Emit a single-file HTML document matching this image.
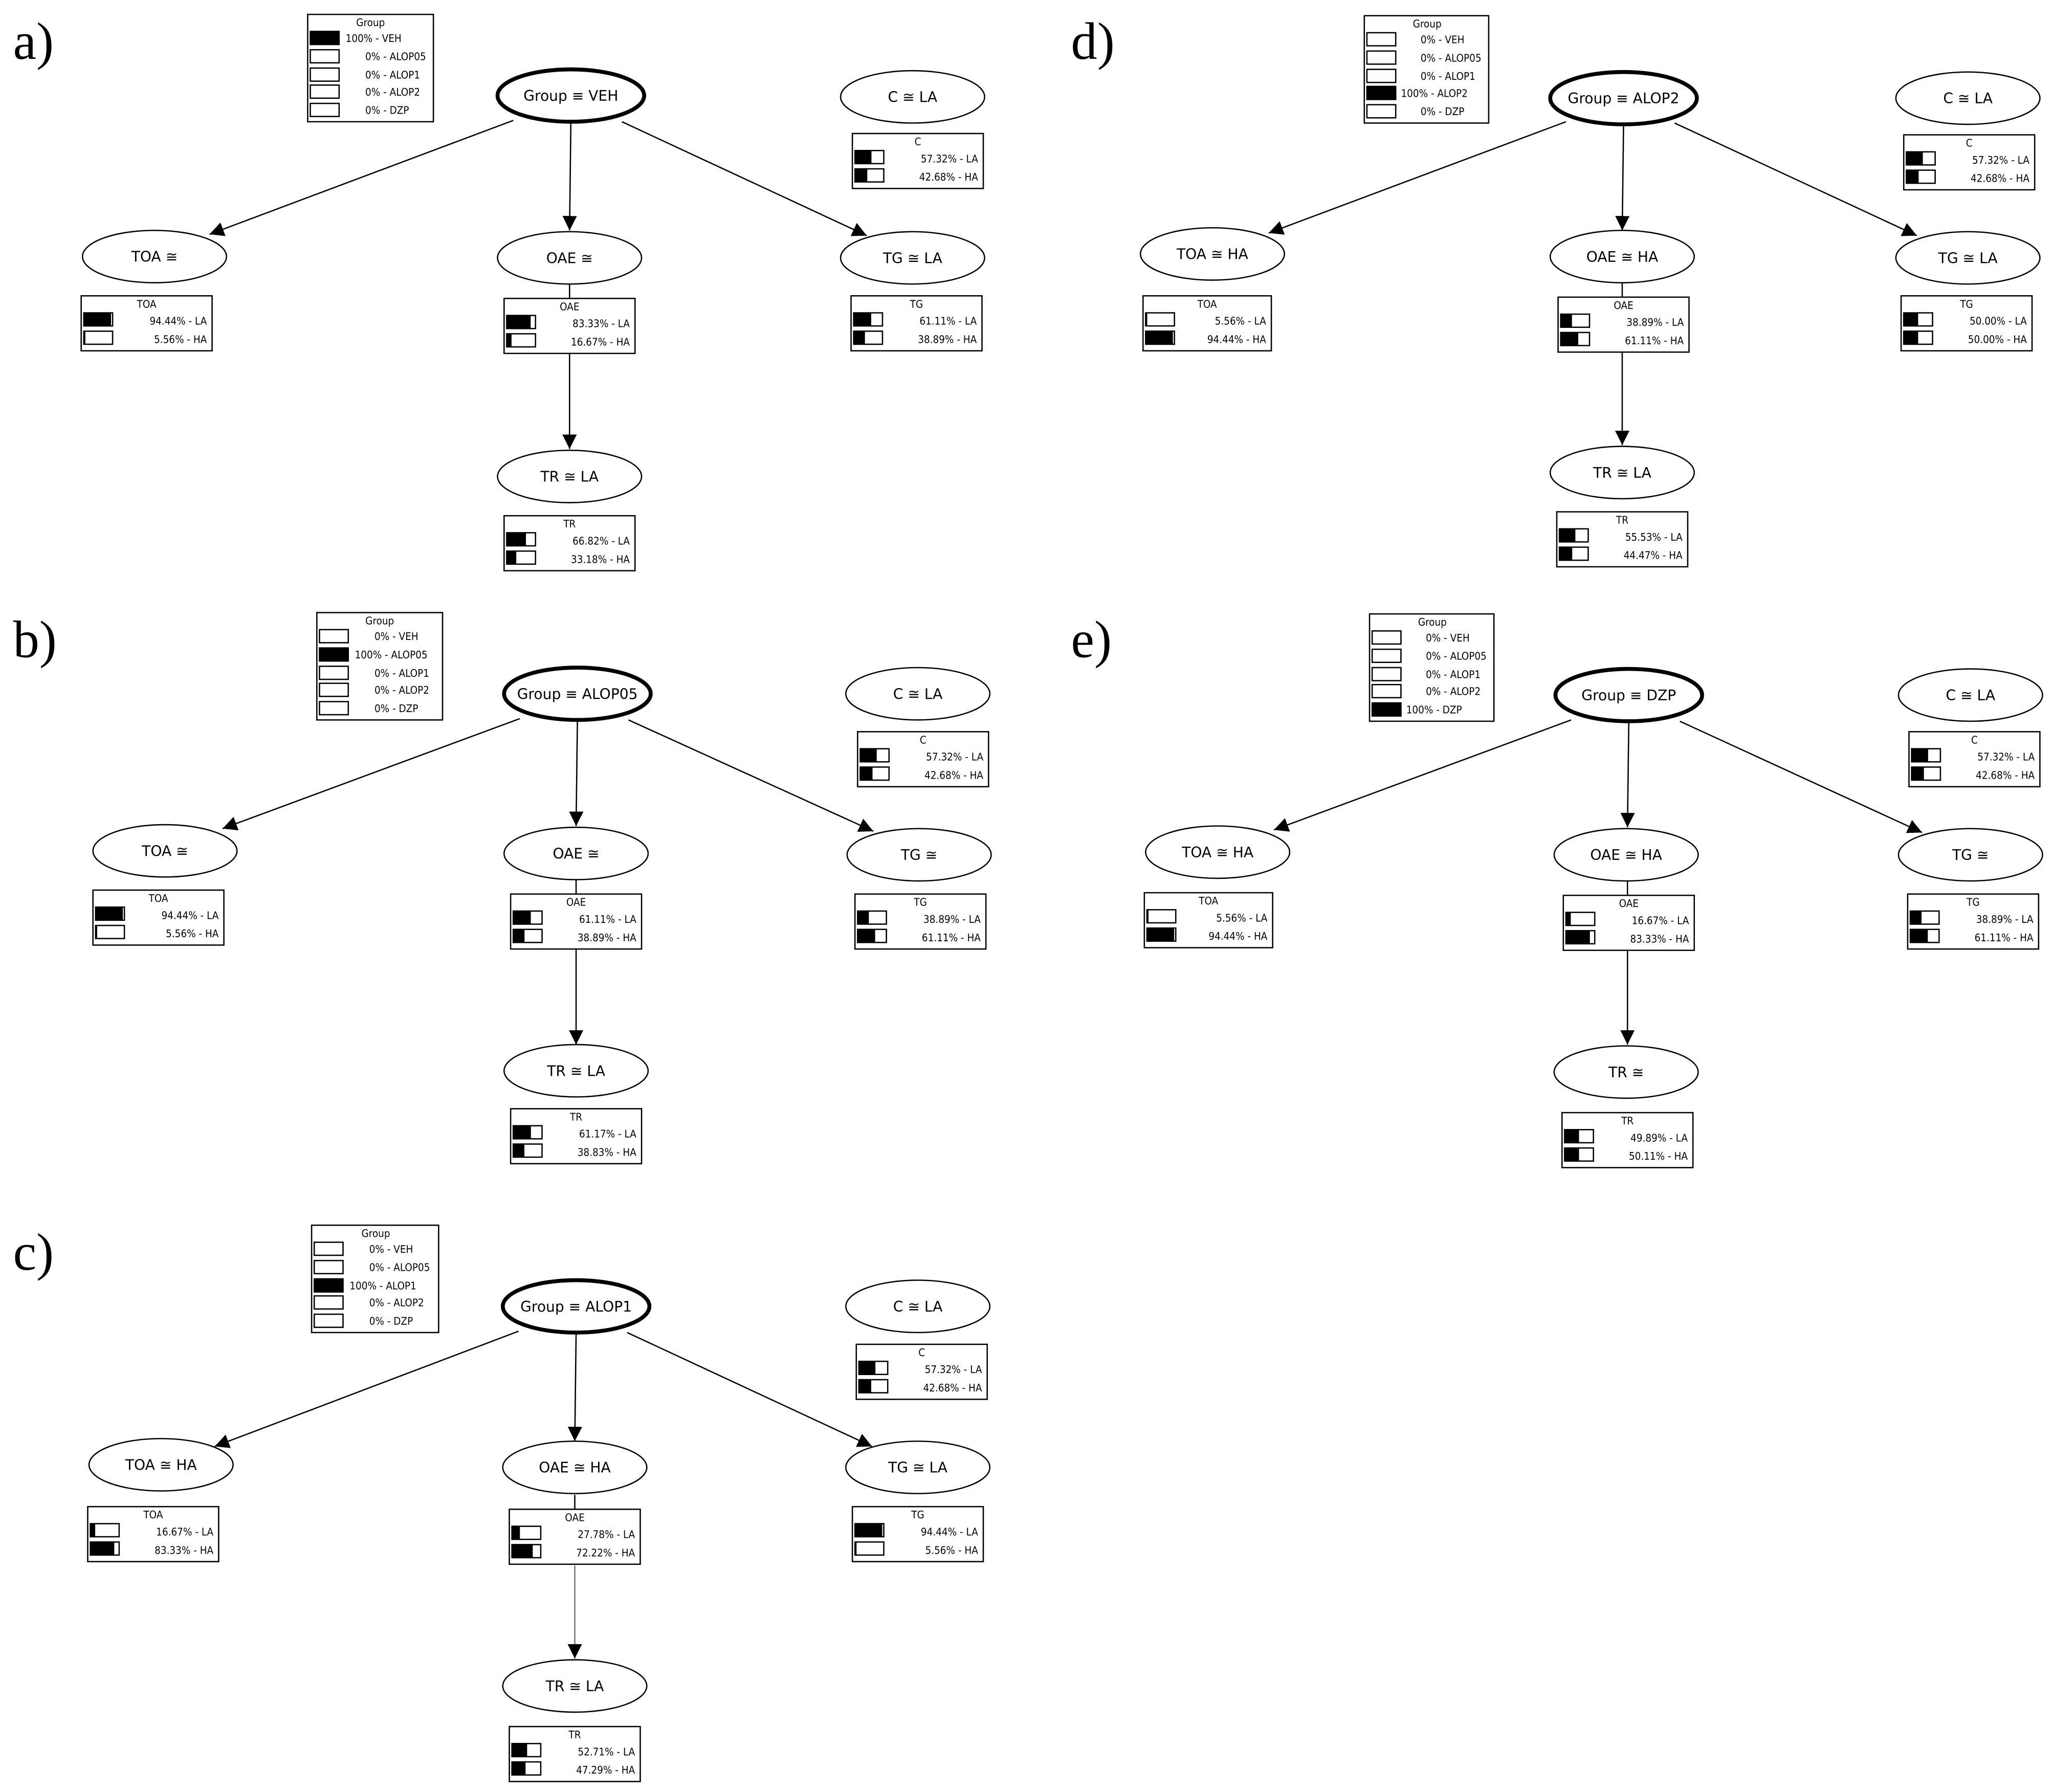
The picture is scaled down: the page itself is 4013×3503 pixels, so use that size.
<!DOCTYPE html>
<html><head><meta charset="utf-8"><style>
html,body{margin:0;padding:0;background:#fff;}
svg{display:block}
.t{font-family:"DejaVu Sans Condensed","DejaVu Sans","Liberation Sans",sans-serif;font-size:8px;fill:#000}
.e{font-family:"DejaVu Sans","Liberation Sans",sans-serif;font-size:11px;fill:#000;text-anchor:middle}
.m{text-anchor:middle}.r{text-anchor:end}
.lab{font-family:"Liberation Serif",serif;font-size:40px;fill:#000}
rect.b{fill:#fff;stroke:#000;stroke-width:1}
rect.k{fill:#000}
ellipse{fill:#fff;stroke:#000;stroke-width:1}
ellipse.g{stroke-width:3}
line{stroke:#000;stroke-width:1}
line.a{marker-end:url(#ar)}
</style></head><body>
<svg width="4013" height="3503" viewBox="0 0 1568 1369" preserveAspectRatio="none" xmlns="http://www.w3.org/2000/svg">
<defs><marker id="ar" viewBox="0 0 10 10" refX="10" refY="5" markerWidth="11" markerHeight="11" markerUnits="userSpaceOnUse" orient="auto"><path d="M0,0 L10,5 L0,10 z" fill="#000"/></marker></defs>
<rect width="1568" height="1369" fill="#fff"/>
<text class="lab" x="10" y="45">a)</text>
<text class="lab" x="10" y="502">b)</text>
<text class="lab" x="10" y="970">c)</text>
<text class="lab" x="818" y="45">d)</text>
<text class="lab" x="818" y="502">e)</text>

<!-- PANEL A -->
<g transform="translate(0,0)">
<rect class="b" x="235" y="11" width="96" height="82"/>
<text class="t m" x="283" y="20">Group</text>
<rect class="b" x="237" y="24" width="22" height="10"/><rect class="k" x="237" y="24" width="22" height="10"/><text class="t" x="264" y="32">100% - VEH</text>
<rect class="b" x="237" y="38" width="22" height="10"/><text class="t" x="279" y="46">0% - ALOP05</text>
<rect class="b" x="237" y="52" width="22" height="10"/><text class="t" x="279" y="60">0% - ALOP1</text>
<rect class="b" x="237" y="65" width="22" height="10"/><text class="t" x="279" y="73">0% - ALOP2</text>
<rect class="b" x="237" y="79" width="22" height="10"/><text class="t" x="279" y="87">0% - DZP</text>
<line class="a" x1="392" y1="92" x2="160" y2="179"/>
<line class="a" x1="436" y1="94" x2="435" y2="176"/>
<line class="a" x1="475" y1="93" x2="662" y2="180"/>
<line x1="435" y1="217" x2="435" y2="228"/>
<line class="a" x1="435" y1="270" x2="435" y2="343"/>
<ellipse class="g" cx="436" cy="73" rx="56" ry="20"/><text class="e" x="436" y="77">Group ≡ VEH</text>
<ellipse cx="697" cy="74" rx="55" ry="20"/><text class="e" x="697" y="78">C ≅ LA</text>
<rect class="b" x="651" y="102" width="100" height="42"/><text class="t m" x="701" y="111">C</text>
<rect class="b" x="653" y="115" width="22" height="10"/><rect class="k" x="653" y="115" width="12.6" height="10"/><text class="t r" x="747" y="124">57.32% - LA</text>
<rect class="b" x="653" y="129" width="22" height="10"/><rect class="k" x="653" y="129" width="9.4" height="10"/><text class="t r" x="747" y="138">42.68% - HA</text>
<ellipse cx="118" cy="196" rx="55" ry="20"/><text class="e" x="118" y="200">TOA ≅</text>
<rect class="b" x="62" y="226" width="100" height="42"/><text class="t m" x="112" y="235">TOA</text>
<rect class="b" x="64" y="239" width="22" height="10"/><rect class="k" x="64" y="239" width="20.8" height="10"/><text class="t r" x="158" y="248">94.44% - LA</text>
<rect class="b" x="64" y="253" width="22" height="10"/><rect class="k" x="64" y="253" width="1.2" height="10"/><text class="t r" x="158" y="262">5.56% - HA</text>
<ellipse cx="435" cy="197" rx="55" ry="20"/><text class="e" x="435" y="201">OAE ≅</text>
<rect class="b" x="385" y="228" width="100" height="42"/><text class="t m" x="435" y="237">OAE</text>
<rect class="b" x="387" y="241" width="22" height="10"/><rect class="k" x="387" y="241" width="18.3" height="10"/><text class="t r" x="481" y="250">83.33% - LA</text>
<rect class="b" x="387" y="255" width="22" height="10"/><rect class="k" x="387" y="255" width="3.7" height="10"/><text class="t r" x="481" y="264">16.67% - HA</text>
<ellipse cx="697" cy="197" rx="55" ry="20"/><text class="e" x="697" y="201">TG ≅ LA</text>
<rect class="b" x="650" y="226" width="100" height="42"/><text class="t m" x="700" y="235">TG</text>
<rect class="b" x="652" y="239" width="22" height="10"/><rect class="k" x="652" y="239" width="13.4" height="10"/><text class="t r" x="746" y="248">61.11% - LA</text>
<rect class="b" x="652" y="253" width="22" height="10"/><rect class="k" x="652" y="253" width="8.6" height="10"/><text class="t r" x="746" y="262">38.89% - HA</text>
<ellipse cx="435" cy="364" rx="55" ry="20"/><text class="e" x="435" y="368">TR ≅ LA</text>
<rect class="b" x="385" y="394" width="100" height="42"/><text class="t m" x="435" y="403">TR</text>
<rect class="b" x="387" y="407" width="22" height="10"/><rect class="k" x="387" y="407" width="14.7" height="10"/><text class="t r" x="481" y="416">66.82% - LA</text>
<rect class="b" x="387" y="421" width="22" height="10"/><rect class="k" x="387" y="421" width="7.3" height="10"/><text class="t r" x="481" y="430">33.18% - HA</text>
</g>

<!-- PANEL B -->
<g transform="translate(5,457)">
<rect class="b" x="237" y="11" width="96" height="82"/>
<text class="t m" x="285" y="20">Group</text>
<rect class="b" x="239" y="24" width="22" height="10"/><text class="t" x="281" y="32">0% - VEH</text>
<rect class="b" x="239" y="38" width="22" height="10"/><rect class="k" x="239" y="38" width="22" height="10"/><text class="t" x="266" y="46">100% - ALOP05</text>
<rect class="b" x="239" y="52" width="22" height="10"/><text class="t" x="281" y="60">0% - ALOP1</text>
<rect class="b" x="239" y="65" width="22" height="10"/><text class="t" x="281" y="73">0% - ALOP2</text>
<rect class="b" x="239" y="79" width="22" height="10"/><text class="t" x="281" y="87">0% - DZP</text>
<line class="a" x1="392" y1="92" x2="165" y2="176"/>
<line class="a" x1="436" y1="94" x2="435" y2="174"/>
<line class="a" x1="475" y1="93" x2="662" y2="178"/>
<line x1="435" y1="215" x2="435" y2="226"/>
<line class="a" x1="435" y1="268" x2="435" y2="341"/>
<ellipse class="g" cx="436" cy="73" rx="56" ry="20"/><text class="e" x="436" y="77">Group ≡ ALOP05</text>
<ellipse cx="696" cy="73" rx="55" ry="20"/><text class="e" x="696" y="77">C ≅ LA</text>
<rect class="b" x="650" y="102" width="100" height="42"/><text class="t m" x="700" y="111">C</text>
<rect class="b" x="652" y="115" width="22" height="10"/><rect class="k" x="652" y="115" width="12.6" height="10"/><text class="t r" x="746" y="124">57.32% - LA</text>
<rect class="b" x="652" y="129" width="22" height="10"/><rect class="k" x="652" y="129" width="9.4" height="10"/><text class="t r" x="746" y="138">42.68% - HA</text>
<ellipse cx="121" cy="193" rx="55" ry="20"/><text class="e" x="121" y="197">TOA ≅</text>
<rect class="b" x="66" y="223" width="100" height="42"/><text class="t m" x="116" y="232">TOA</text>
<rect class="b" x="68" y="236" width="22" height="10"/><rect class="k" x="68" y="236" width="20.8" height="10"/><text class="t r" x="162" y="245">94.44% - LA</text>
<rect class="b" x="68" y="250" width="22" height="10"/><rect class="k" x="68" y="250" width="1.2" height="10"/><text class="t r" x="162" y="259">5.56% - HA</text>
<ellipse cx="435" cy="195" rx="55" ry="20"/><text class="e" x="435" y="199">OAE ≅</text>
<rect class="b" x="385" y="226" width="100" height="42"/><text class="t m" x="435" y="235">OAE</text>
<rect class="b" x="387" y="239" width="22" height="10"/><rect class="k" x="387" y="239" width="13.4" height="10"/><text class="t r" x="481" y="248">61.11% - LA</text>
<rect class="b" x="387" y="253" width="22" height="10"/><rect class="k" x="387" y="253" width="8.6" height="10"/><text class="t r" x="481" y="262">38.89% - HA</text>
<ellipse cx="697" cy="196" rx="55" ry="20"/><text class="e" x="697" y="200">TG ≅</text>
<rect class="b" x="648" y="226" width="100" height="42"/><text class="t m" x="698" y="235">TG</text>
<rect class="b" x="650" y="239" width="22" height="10"/><rect class="k" x="650" y="239" width="8.6" height="10"/><text class="t r" x="744" y="248">38.89% - LA</text>
<rect class="b" x="650" y="253" width="22" height="10"/><rect class="k" x="650" y="253" width="13.4" height="10"/><text class="t r" x="744" y="262">61.11% - HA</text>
<ellipse cx="435" cy="361" rx="55" ry="20"/><text class="e" x="435" y="365">TR ≅ LA</text>
<rect class="b" x="385" y="390" width="100" height="42"/><text class="t m" x="435" y="399">TR</text>
<rect class="b" x="387" y="403" width="22" height="10"/><rect class="k" x="387" y="403" width="13.5" height="10"/><text class="t r" x="481" y="412">61.17% - LA</text>
<rect class="b" x="387" y="417" width="22" height="10"/><rect class="k" x="387" y="417" width="8.5" height="10"/><text class="t r" x="481" y="426">38.83% - HA</text>
</g>

<!-- PANEL C -->
<g transform="translate(4,925)">
<rect class="b" x="234" y="11" width="97" height="82"/>
<text class="t m" x="283" y="20">Group</text>
<rect class="b" x="236" y="24" width="22" height="10"/><text class="t" x="278" y="32">0% - VEH</text>
<rect class="b" x="236" y="38" width="22" height="10"/><text class="t" x="278" y="46">0% - ALOP05</text>
<rect class="b" x="236" y="52" width="22" height="10"/><rect class="k" x="236" y="52" width="22" height="10"/><text class="t" x="263" y="60">100% - ALOP1</text>
<rect class="b" x="236" y="65" width="22" height="10"/><text class="t" x="278" y="73">0% - ALOP2</text>
<rect class="b" x="236" y="79" width="22" height="10"/><text class="t" x="278" y="87">0% - DZP</text>
<line class="a" x1="392" y1="92" x2="160" y2="180"/>
<line class="a" x1="436" y1="94" x2="435" y2="176"/>
<line class="a" x1="475" y1="93" x2="662" y2="180"/>
<line x1="435" y1="217" x2="435" y2="228" stroke="#888"/>
<line class="a" x1="435" y1="271" x2="435" y2="342" style="stroke:#777"/>
<ellipse class="g" cx="436" cy="73" rx="56" ry="20"/><text class="e" x="436" y="77">Group ≡ ALOP1</text>
<ellipse cx="697" cy="73" rx="55" ry="20"/><text class="e" x="697" y="77">C ≅ LA</text>
<rect class="b" x="650" y="102" width="100" height="42"/><text class="t m" x="700" y="111">C</text>
<rect class="b" x="652" y="115" width="22" height="10"/><rect class="k" x="652" y="115" width="12.6" height="10"/><text class="t r" x="746" y="124">57.32% - LA</text>
<rect class="b" x="652" y="129" width="22" height="10"/><rect class="k" x="652" y="129" width="9.4" height="10"/><text class="t r" x="746" y="138">42.68% - HA</text>
<ellipse cx="119" cy="194" rx="55" ry="20"/><text class="e" x="119" y="198">TOA ≅ HA</text>
<rect class="b" x="63" y="226" width="100" height="42"/><text class="t m" x="113" y="235">TOA</text>
<rect class="b" x="65" y="239" width="22" height="10"/><rect class="k" x="65" y="239" width="3.7" height="10"/><text class="t r" x="159" y="248">16.67% - LA</text>
<rect class="b" x="65" y="253" width="22" height="10"/><rect class="k" x="65" y="253" width="18.3" height="10"/><text class="t r" x="159" y="262">83.33% - HA</text>
<ellipse cx="435" cy="196" rx="55" ry="20"/><text class="e" x="435" y="200">OAE ≅ HA</text>
<rect class="b" x="385" y="228" width="100" height="42"/><text class="t m" x="435" y="237">OAE</text>
<rect class="b" x="387" y="241" width="22" height="10"/><rect class="k" x="387" y="241" width="6.1" height="10"/><text class="t r" x="481" y="250">27.78% - LA</text>
<rect class="b" x="387" y="255" width="22" height="10"/><rect class="k" x="387" y="255" width="15.9" height="10"/><text class="t r" x="481" y="264">72.22% - HA</text>
<ellipse cx="697" cy="196" rx="55" ry="20"/><text class="e" x="697" y="200">TG ≅ LA</text>
<rect class="b" x="647" y="226" width="100" height="42"/><text class="t m" x="697" y="235">TG</text>
<rect class="b" x="649" y="239" width="22" height="10"/><rect class="k" x="649" y="239" width="20.8" height="10"/><text class="t r" x="743" y="248">94.44% - LA</text>
<rect class="b" x="649" y="253" width="22" height="10"/><rect class="k" x="649" y="253" width="1.2" height="10"/><text class="t r" x="743" y="262">5.56% - HA</text>
<ellipse cx="435" cy="363" rx="55" ry="20"/><text class="e" x="435" y="367">TR ≅ LA</text>
<rect class="b" x="385" y="394" width="100" height="42"/><text class="t m" x="435" y="403">TR</text>
<rect class="b" x="387" y="407" width="22" height="10"/><rect class="k" x="387" y="407" width="11.6" height="10"/><text class="t r" x="481" y="416">52.71% - LA</text>
<rect class="b" x="387" y="421" width="22" height="10"/><rect class="k" x="387" y="421" width="10.4" height="10"/><text class="t r" x="481" y="430">47.29% - HA</text>
</g>

<!-- PANEL D -->
<g transform="translate(804,2)">
<rect class="b" x="238" y="10" width="95" height="82"/>
<text class="t m" x="286" y="19">Group</text>
<rect class="b" x="240" y="23" width="22" height="10"/><text class="t" x="281" y="31">0% - VEH</text>
<rect class="b" x="240" y="37" width="22" height="10"/><text class="t" x="281" y="45">0% - ALOP05</text>
<rect class="b" x="240" y="51" width="22" height="10"/><text class="t" x="281" y="59">0% - ALOP1</text>
<rect class="b" x="240" y="64" width="22" height="10"/><rect class="k" x="240" y="64" width="22" height="10"/><text class="t" x="266" y="72">100% - ALOP2</text>
<rect class="b" x="240" y="78" width="22" height="10"/><text class="t" x="281" y="86">0% - DZP</text>
<line class="a" x1="392" y1="91" x2="165" y2="176"/>
<line class="a" x1="436" y1="93" x2="435" y2="174"/>
<line class="a" x1="475" y1="92" x2="660" y2="178"/>
<line x1="435" y1="214" x2="435" y2="225"/>
<line class="a" x1="435" y1="267" x2="435" y2="338"/>
<ellipse class="g" cx="436" cy="73" rx="56" ry="20"/><text class="e" x="436" y="77">Group ≡ ALOP2</text>
<ellipse cx="699" cy="73" rx="55" ry="20"/><text class="e" x="699" y="77">C ≅ LA</text>
<rect class="b" x="650" y="101" width="100" height="42"/><text class="t m" x="700" y="110">C</text>
<rect class="b" x="652" y="114" width="22" height="10"/><rect class="k" x="652" y="114" width="12.6" height="10"/><text class="t r" x="746" y="123">57.32% - LA</text>
<rect class="b" x="652" y="128" width="22" height="10"/><rect class="k" x="652" y="128" width="9.4" height="10"/><text class="t r" x="746" y="137">42.68% - HA</text>
<ellipse cx="122" cy="192" rx="55" ry="20"/><text class="e" x="122" y="196">TOA ≅ HA</text>
<rect class="b" x="69" y="224" width="98" height="42"/><text class="t m" x="118" y="233">TOA</text>
<rect class="b" x="71" y="237" width="22" height="10"/><rect class="k" x="71" y="237" width="1.2" height="10"/><text class="t r" x="163" y="246">5.56% - LA</text>
<rect class="b" x="71" y="251" width="22" height="10"/><rect class="k" x="71" y="251" width="20.8" height="10"/><text class="t r" x="163" y="260">94.44% - HA</text>
<ellipse cx="435" cy="194" rx="55" ry="20"/><text class="e" x="435" y="198">OAE ≅ HA</text>
<rect class="b" x="386" y="225" width="100" height="42"/><text class="t m" x="436" y="234">OAE</text>
<rect class="b" x="388" y="238" width="22" height="10"/><rect class="k" x="388" y="238" width="8.6" height="10"/><text class="t r" x="482" y="247">38.89% - LA</text>
<rect class="b" x="388" y="252" width="22" height="10"/><rect class="k" x="388" y="252" width="13.4" height="10"/><text class="t r" x="482" y="261">61.11% - HA</text>
<ellipse cx="699" cy="195" rx="55" ry="20"/><text class="e" x="699" y="199">TG ≅ LA</text>
<rect class="b" x="648" y="224" width="100" height="42"/><text class="t m" x="698" y="233">TG</text>
<rect class="b" x="650" y="237" width="22" height="10"/><rect class="k" x="650" y="237" width="11" height="10"/><text class="t r" x="744" y="246">50.00% - LA</text>
<rect class="b" x="650" y="251" width="22" height="10"/><rect class="k" x="650" y="251" width="11" height="10"/><text class="t r" x="744" y="260">50.00% - HA</text>
<ellipse cx="435" cy="359" rx="55" ry="20"/><text class="e" x="435" y="363">TR ≅ LA</text>
<rect class="b" x="385" y="389" width="100" height="42"/><text class="t m" x="435" y="398">TR</text>
<rect class="b" x="387" y="402" width="22" height="10"/><rect class="k" x="387" y="402" width="12.2" height="10"/><text class="t r" x="481" y="411">55.53% - LA</text>
<rect class="b" x="387" y="416" width="22" height="10"/><rect class="k" x="387" y="416" width="9.8" height="10"/><text class="t r" x="481" y="425">44.47% - HA</text>
</g>

<!-- PANEL E -->
<g transform="translate(808,458)">
<rect class="b" x="238" y="11" width="95" height="82"/>
<text class="t m" x="286" y="20">Group</text>
<rect class="b" x="240" y="24" width="22" height="10"/><text class="t" x="281" y="32">0% - VEH</text>
<rect class="b" x="240" y="38" width="22" height="10"/><text class="t" x="281" y="46">0% - ALOP05</text>
<rect class="b" x="240" y="52" width="22" height="10"/><text class="t" x="281" y="60">0% - ALOP1</text>
<rect class="b" x="240" y="65" width="22" height="10"/><text class="t" x="281" y="73">0% - ALOP2</text>
<rect class="b" x="240" y="79" width="22" height="10"/><rect class="k" x="240" y="79" width="22" height="10"/><text class="t" x="266" y="87">100% - DZP</text>
<line class="a" x1="392" y1="92" x2="165" y2="176"/>
<line class="a" x1="436" y1="94" x2="435" y2="174"/>
<line class="a" x1="475" y1="93" x2="660" y2="178"/>
<line x1="435" y1="215" x2="435" y2="226"/>
<line class="a" x1="435" y1="268" x2="435" y2="340"/>
<ellipse class="g" cx="436" cy="73" rx="56" ry="20"/><text class="e" x="436" y="77">Group ≡ DZP</text>
<ellipse cx="697" cy="73" rx="55" ry="20"/><text class="e" x="697" y="77">C ≅ LA</text>
<rect class="b" x="650" y="101" width="100" height="42"/><text class="t m" x="700" y="110">C</text>
<rect class="b" x="652" y="114" width="22" height="10"/><rect class="k" x="652" y="114" width="12.6" height="10"/><text class="t r" x="746" y="123">57.32% - LA</text>
<rect class="b" x="652" y="128" width="22" height="10"/><rect class="k" x="652" y="128" width="9.4" height="10"/><text class="t r" x="746" y="137">42.68% - HA</text>
<ellipse cx="122" cy="193" rx="55" ry="20"/><text class="e" x="122" y="197">TOA ≅ HA</text>
<rect class="b" x="66" y="224" width="98" height="42"/><text class="t m" x="115" y="233">TOA</text>
<rect class="b" x="68" y="237" width="22" height="10"/><rect class="k" x="68" y="237" width="1.2" height="10"/><text class="t r" x="160" y="246">5.56% - LA</text>
<rect class="b" x="68" y="251" width="22" height="10"/><rect class="k" x="68" y="251" width="20.8" height="10"/><text class="t r" x="160" y="260">94.44% - HA</text>
<ellipse cx="434" cy="195" rx="55" ry="20"/><text class="e" x="434" y="199">OAE ≅ HA</text>
<rect class="b" x="386" y="226" width="100" height="42"/><text class="t m" x="436" y="235">OAE</text>
<rect class="b" x="388" y="239" width="22" height="10"/><rect class="k" x="388" y="239" width="3.7" height="10"/><text class="t r" x="482" y="248">16.67% - LA</text>
<rect class="b" x="388" y="253" width="22" height="10"/><rect class="k" x="388" y="253" width="18.3" height="10"/><text class="t r" x="482" y="262">83.33% - HA</text>
<ellipse cx="697" cy="195" rx="55" ry="20"/><text class="e" x="697" y="199">TG ≅</text>
<rect class="b" x="649" y="225" width="100" height="42"/><text class="t m" x="699" y="234">TG</text>
<rect class="b" x="651" y="238" width="22" height="10"/><rect class="k" x="651" y="238" width="8.6" height="10"/><text class="t r" x="745" y="247">38.89% - LA</text>
<rect class="b" x="651" y="252" width="22" height="10"/><rect class="k" x="651" y="252" width="13.4" height="10"/><text class="t r" x="745" y="261">61.11% - HA</text>
<ellipse cx="434" cy="361" rx="55" ry="20"/><text class="e" x="434" y="365">TR ≅</text>
<rect class="b" x="385" y="392" width="100" height="42"/><text class="t m" x="435" y="401">TR</text>
<rect class="b" x="387" y="405" width="22" height="10"/><rect class="k" x="387" y="405" width="11" height="10"/><text class="t r" x="481" y="414">49.89% - LA</text>
<rect class="b" x="387" y="419" width="22" height="10"/><rect class="k" x="387" y="419" width="11" height="10"/><text class="t r" x="481" y="428">50.11% - HA</text>
</g>
</svg>
</body></html>
